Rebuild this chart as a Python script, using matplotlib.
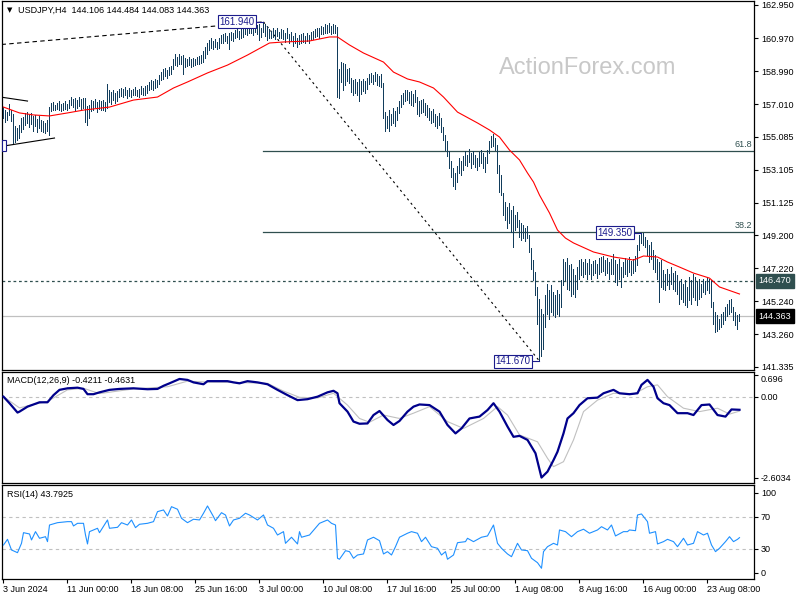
import numpy as np
import matplotlib
matplotlib.use("Agg")
import matplotlib.pyplot as plt
import matplotlib.transforms as mtransforms
from matplotlib.patches import Rectangle

plt.rcParams['font.family'] = ['Liberation Sans', 'DejaVu Sans']

# ---- data (bar index = 4h bar from 3 Jun 16:00) ----
symbol = "USDJPY,H4"
last_ohlc = [144.106, 144.484, 144.083, 144.363]

bar_hi = [
    156.85, 156.70, 156.55, 157.05, 156.70, 156.45, 155.70, 155.60, 155.75, 156.20,
    156.25, 156.50, 156.55, 156.35, 156.50, 156.30, 156.40, 156.15, 156.30, 156.05,
    156.00, 155.90, 156.10, 156.85, 157.10, 157.15, 157.00, 157.10, 157.20, 157.05,
    157.10, 157.20, 157.05, 157.30, 157.45, 157.35, 157.40, 157.25, 157.45, 157.35,
    157.40, 157.40, 156.90, 157.00, 157.25, 157.20, 157.35, 157.15, 157.25, 157.20,
    157.30, 157.15, 158.25, 157.85, 157.75, 157.90, 157.70, 157.80, 157.95, 158.00,
    157.95, 158.05, 157.90, 158.00, 157.85, 157.95, 158.05, 157.90, 157.95, 158.10,
    158.00, 158.10, 158.15, 158.35, 158.45, 158.40, 158.50, 158.45, 158.75, 158.95,
    159.10, 159.20, 159.05, 159.25, 159.30, 159.70, 160.00, 159.85, 160.05, 159.90,
    159.95, 159.80, 159.70, 159.85, 159.75, 159.80, 159.70, 159.85, 159.90, 159.95,
    160.20, 160.45, 160.70, 160.85, 160.95, 160.80, 160.90, 160.75, 160.95, 161.15,
    161.20, 161.30, 161.10, 161.25, 161.35, 161.30, 161.45, 161.55, 161.40, 161.50,
    161.60, 161.75, 161.70, 161.85, 161.80, 161.70, 161.85, 161.75, 161.80, 161.60,
    161.94, 161.80, 161.70, 161.50, 161.40, 161.55, 161.45, 161.60, 161.35, 161.50,
    161.45, 161.30, 161.55, 161.20, 161.35, 161.10, 161.25, 161.00, 161.15, 161.20,
    161.25, 161.10, 161.30, 161.15, 161.35, 161.40, 161.50, 161.60, 161.55, 161.70,
    161.65, 161.80, 161.75, 161.85, 161.70, 161.80, 161.75, 161.65, 159.10, 159.55,
    159.50, 159.40, 159.15, 159.20, 158.60, 158.45, 158.50, 158.35, 158.55, 158.40,
    158.50, 158.40, 158.60, 158.85, 158.90, 158.75, 158.95, 158.80, 158.70, 158.85,
    158.30, 156.55, 156.30, 156.70, 156.45, 156.80, 156.60, 156.85, 157.20, 157.60,
    157.70, 157.85, 157.90, 157.75, 157.80, 157.65, 157.85, 157.45, 157.20, 157.30,
    157.35, 157.10, 157.00, 156.80, 156.60, 156.75, 156.45, 156.30, 156.50, 156.20,
    155.65, 155.20, 154.80, 154.20, 153.60, 153.20, 152.90, 153.30, 153.80, 153.60,
    153.90, 154.20, 154.00, 154.35, 154.10, 154.25, 154.00, 153.80, 154.15, 154.30,
    154.10, 153.85, 154.30, 154.80, 155.10, 155.25, 155.00, 154.60, 153.40, 152.80,
    151.70, 151.20, 150.90, 151.10, 150.70, 150.95, 150.40, 150.60, 150.10, 149.95,
    149.80, 149.60, 149.75, 149.20, 148.40, 147.70, 147.00, 146.10, 145.40, 144.80,
    144.50, 145.60, 146.30, 145.90, 146.20, 145.80, 145.60, 145.90, 145.70, 146.50,
    147.80, 147.60, 147.85, 147.40, 147.50, 147.20, 146.80, 147.30, 147.70, 147.80,
    147.60, 147.75, 147.55, 147.80, 147.45, 147.65, 147.70, 147.50, 147.85, 147.90,
    147.95, 147.70, 147.85, 147.60, 147.80, 148.05, 147.70, 147.50, 147.75, 147.30,
    147.60, 147.85, 147.70, 147.90, 147.65, 147.80, 147.95, 148.60, 149.20, 149.35,
    149.30, 149.10, 148.90, 148.60, 148.80, 148.30, 148.00, 147.80, 147.60, 147.70,
    147.10, 146.90, 147.20, 146.85, 147.30, 146.95, 147.05, 146.80, 146.40, 146.60,
    146.30, 146.50, 146.10, 146.70, 146.50, 146.90, 146.70, 146.40, 146.60, 146.30,
    146.60, 146.45, 146.70, 146.55, 146.50, 145.20, 144.60, 144.40, 144.20, 144.50,
    144.60, 144.90, 145.10, 145.30, 145.40, 144.90, 144.60, 144.40, 144.484,
]
bar_lo = [
    156.20, 155.95, 156.05, 156.35, 156.00, 154.70, 154.75, 154.90, 155.00, 155.35,
    155.55, 155.80, 155.90, 155.65, 155.85, 155.45, 155.70, 155.35, 155.60, 155.40,
    155.35, 155.30, 155.45, 155.20, 156.60, 156.70, 156.65, 156.75, 156.70, 156.60,
    156.65, 156.75, 156.70, 156.80, 156.95, 156.85, 156.70, 156.80, 156.90, 156.75,
    156.80, 155.95, 155.75, 156.20, 156.60, 156.70, 156.85, 156.55, 156.75, 156.65,
    156.70, 156.60, 156.80, 157.15, 157.05, 157.25, 157.10, 157.20, 157.45, 157.50,
    157.45, 157.55, 157.40, 157.50, 157.45, 157.55, 157.60, 157.50, 157.45, 157.65,
    157.55, 157.60, 157.70, 157.85, 157.95, 157.90, 158.00, 158.05, 158.20, 158.45,
    158.55, 158.70, 158.60, 158.75, 158.85, 159.10, 159.35, 159.30, 159.45, 159.40,
    158.80, 159.25, 159.30, 159.35, 159.25, 159.30, 159.35, 159.40, 159.45, 159.50,
    159.55, 159.80, 160.05, 160.25, 160.40, 160.35, 160.45, 160.30, 160.40, 160.70,
    160.70, 160.80, 160.65, 160.30, 160.85, 160.80, 160.95, 161.05, 160.90, 161.00,
    161.05, 161.20, 161.15, 161.30, 161.25, 161.15, 161.35, 161.20, 160.85, 161.05,
    161.35, 161.10, 160.85, 160.95, 161.00, 161.05, 160.90, 161.10, 160.95, 161.00,
    160.90, 160.75, 160.95, 160.70, 160.80, 160.50, 160.65, 160.45, 160.60, 160.70,
    160.75, 160.65, 160.80, 160.70, 160.85, 160.90, 161.05, 161.10, 161.00, 161.20,
    161.20, 161.30, 161.25, 161.35, 161.20, 161.30, 161.25, 157.45, 157.40, 158.35,
    157.90, 158.15, 158.40, 158.30, 157.75, 157.60, 157.70, 157.55, 157.20, 157.65,
    157.80, 157.70, 157.95, 158.25, 158.35, 158.20, 158.40, 158.15, 158.10, 158.05,
    156.20, 155.45, 155.60, 155.40, 155.75, 155.90, 155.70, 156.10, 156.50, 156.85,
    157.05, 157.20, 157.25, 157.10, 157.00, 156.90, 157.15, 156.45, 156.30, 156.50,
    156.55, 156.35, 156.25, 156.10, 155.90, 155.95, 155.70, 155.60, 155.75, 155.35,
    154.90, 154.30, 153.90, 153.20, 152.70, 152.15, 151.95, 152.40, 152.90, 152.80,
    153.10, 153.40, 153.30, 153.55, 153.20, 153.45, 153.25, 153.10, 153.35, 153.50,
    153.20, 152.95, 153.50, 154.10, 154.45, 154.55, 154.30, 152.90, 151.80, 151.60,
    150.40, 150.10, 149.60, 149.90, 149.40, 148.50, 149.50, 149.70, 149.10, 148.90,
    149.00, 148.85, 149.00, 148.20, 147.20, 146.50, 145.60, 143.90, 141.67, 142.00,
    142.40, 143.70, 144.50, 144.20, 144.60, 144.40, 144.30, 144.50, 144.35, 144.90,
    146.20, 146.50, 146.00, 145.90, 145.55, 145.70, 145.50, 146.00, 146.60, 146.80,
    146.70, 146.90, 146.60, 146.85, 146.55, 146.80, 146.95, 146.65, 146.90, 147.00,
    147.05, 146.80, 146.95, 146.60, 146.85, 146.90, 146.40, 146.20, 146.60, 146.10,
    146.70, 146.90, 146.75, 147.00, 146.80, 146.95, 147.05, 147.40, 148.30, 148.70,
    148.60, 148.50, 148.00, 147.60, 147.80, 147.20, 147.00, 146.60, 145.20, 146.10,
    146.00, 145.90, 146.20, 145.95, 146.30, 146.00, 145.85, 145.70, 145.10, 145.40,
    145.20, 145.05, 144.90, 145.30, 145.10, 145.50, 145.30, 145.00, 145.40, 145.50,
    145.80, 145.65, 145.90, 145.75, 144.90, 143.90, 143.40, 143.45, 143.60, 143.70,
    143.90, 144.10, 144.35, 144.50, 144.60, 144.10, 143.80, 143.60, 144.083,
]

# red moving average
ma_bar = [0, 8, 15, 23, 32, 40, 53, 65, 77, 85, 92, 102, 112, 122, 133, 140, 153,
          163, 167, 173, 180, 190, 195, 202, 208, 215, 220, 227, 237, 243, 248, 253,
          258, 262, 265, 268, 273, 277, 281, 285, 295, 305, 315, 320, 327, 332, 338,
          345, 353, 358, 368]
ma_val = [156.85, 156.50, 156.38, 156.32, 156.50, 156.67, 156.85, 157.27, 157.45,
          157.99, 158.35, 158.89, 159.36, 159.96, 160.68, 160.74, 160.80, 161.04,
          161.04, 160.56, 160.08, 159.54, 158.94, 158.53, 158.35, 157.99, 157.45,
          156.55, 155.90, 155.48, 155.06, 154.28, 153.69, 152.91, 152.37, 151.59,
          150.52, 149.50, 149.02, 148.73, 148.19, 147.89, 147.71, 147.95, 147.89,
          147.59, 147.29, 146.93, 146.63, 146.10, 145.68]

# MACD(12,26,9)
macd_bar = [0, 3, 7, 8, 12, 15, 18, 22, 25, 28, 32, 37, 40, 42, 45, 48, 53, 58, 65,
            72, 77, 80, 83, 88, 92, 95, 100, 102, 107, 112, 115, 118, 122, 127, 132,
            137, 142, 147, 152, 157, 162, 165, 167, 168, 172, 175, 178, 182, 185, 188,
            192, 195, 198, 202, 205, 208, 213, 218, 222, 226, 229, 233, 238, 242, 245,
            248, 252, 255, 258, 262, 266, 269, 272, 275, 277, 280, 282, 285, 288, 292,
            297, 300, 305, 308, 313, 317, 319, 322, 325, 327, 330, 333, 337, 342, 345,
            349, 353, 357, 361, 364, 368]
macd_val = [0.0, -0.21, -0.51, -0.48, -0.32, -0.25, -0.18, -0.18, 0.05, 0.22, 0.27,
            0.29, 0.25, 0.08, 0.08, 0.14, 0.22, 0.25, 0.27, 0.24, 0.25, 0.35, 0.43,
            0.57, 0.54, 0.46, 0.40, 0.50, 0.50, 0.50, 0.46, 0.43, 0.50, 0.46, 0.40,
            0.22, 0.05, -0.11, -0.08, 0.0, 0.14, 0.19, 0.11, -0.21, -0.48, -0.80,
            -0.87, -0.86, -0.59, -0.46, -0.75, -0.91, -0.78, -0.48, -0.32, -0.25,
            -0.27, -0.48, -0.91, -1.18, -1.02, -0.70, -0.64, -0.43, -0.21, -0.48,
            -0.96, -1.29, -1.26, -1.39, -1.82, -2.60, -2.41, -2.04, -1.77, -1.18,
            -0.70, -0.53, -0.27, -0.05, -0.03, 0.11, 0.22, 0.11, 0.08, 0.11, 0.38,
            0.54, 0.32, -0.05, -0.21, -0.27, -0.53, -0.53, -0.59, -0.27, -0.25,
            -0.59, -0.64, -0.41, -0.4211]
sig_bar = [0, 8, 15, 22, 32, 40, 48, 65, 82, 92, 102, 115, 132, 140, 148, 157, 165,
           172, 178, 183, 190, 198, 205, 213, 222, 230, 240, 247, 252, 258, 267, 272,
           275, 280, 285, 290, 297, 305, 315, 322, 327, 332, 340, 348, 357, 363, 368]
sig_val = [0.0, -0.36, -0.25, -0.15, 0.22, 0.27, 0.10, 0.25, 0.32, 0.50, 0.47, 0.46,
           0.43, 0.18, -0.02, -0.04, 0.11, -0.27, -0.70, -0.82, -0.59, -0.70, -0.53,
           -0.32, -0.80, -1.02, -0.70, -0.32, -0.59, -1.23, -1.45, -1.98, -2.25,
           -2.09, -1.39, -0.48, -0.11, 0.11, 0.08, 0.32, 0.38, 0.0, -0.37, -0.48,
           -0.37, -0.56, -0.4631]
macd_ticks = [0.696, 0.0, -2.6034]
macd_tick_lab = ["0.696", "0.00", "-2.6034"]

# RSI(14)
rsi_bar = [0, 2, 4, 7, 9, 10, 13, 14, 16, 18, 21, 22, 23, 27, 32, 34, 35, 37, 40,
           41, 42, 43, 47, 48, 52, 53, 57, 59, 62, 64, 66, 68, 72, 75, 77, 80, 82,
           84, 87, 89, 92, 95, 98, 100, 102, 105, 106, 109, 111, 113, 115, 118, 121,
           123, 127, 130, 132, 135, 137, 140, 141, 144, 147, 148, 149, 153, 158, 162,
           164, 166, 167, 168, 171, 173, 175, 177, 180, 182, 185, 188, 190, 192, 194,
           196, 198, 202, 204, 207, 209, 211, 214, 217, 219, 221, 222, 225, 227, 231,
           232, 235, 239, 242, 245, 247, 249, 252, 254, 257, 259, 262, 264, 267, 269,
           270, 272, 275, 277, 278, 281, 284, 287, 290, 293, 297, 299, 302, 304, 306,
           310, 312, 313, 316, 317, 319, 322, 323, 326, 327, 330, 332, 335, 337, 340,
           342, 345, 347, 350, 352, 354, 356, 358, 361, 363, 365, 367, 368]
rsi_val = [34.6, 41.7, 28.4, 25.0, 36.7, 50.0, 48.4, 40.9, 51.3, 43.0, 45.0, 38.8,
           59.6, 62.5, 63.8, 63.8, 58.4, 61.7, 61.7, 47.1, 35.9, 51.3, 55.5, 50.0,
           65.9, 55.5, 56.7, 62.5, 59.6, 65.9, 56.3, 60.5, 61.7, 63.8, 76.3, 78.4,
           70.9, 82.5, 79.3, 68.0, 62.5, 66.8, 65.9, 74.3, 83.4, 70.0, 65.0, 75.0,
           72.1, 58.4, 65.9, 68.0, 74.3, 72.1, 65.9, 72.1, 59.6, 55.5, 47.1, 51.3,
           36.7, 44.3, 35.9, 51.3, 44.3, 47.1, 61.7, 65.9, 61.7, 59.6, 18.0, 16.8,
           27.5, 26.3, 18.0, 22.1, 23.4, 40.9, 44.3, 40.0, 23.4, 26.3, 22.1, 32.5,
           44.3, 49.3, 51.3, 49.3, 38.8, 44.3, 32.5, 30.5, 22.1, 26.3, 16.8, 22.1,
           37.5, 38.8, 43.0, 38.8, 44.3, 45.9, 59.6, 36.7, 30.5, 23.4, 20.0, 36.7,
           28.4, 27.5, 18.0, 12.5, 5.5, 26.3, 32.5, 36.7, 34.6, 53.4, 51.3, 45.0,
           51.3, 54.3, 49.3, 53.4, 57.5, 53.4, 59.6, 45.9, 51.3, 51.3, 53.4, 52.5,
           72.1, 73.4, 63.8, 49.3, 51.3, 35.9, 38.8, 41.7, 38.8, 32.5, 43.0, 34.6,
           36.7, 51.3, 47.1, 49.3, 34.6, 26.3, 30.5, 38.8, 45.0, 38.8, 41.7, 43.7925]
rsi_ticks = [100, 70, 30, 0]
rsi_levels = [70, 30]

price_ticks = [162.950, 160.970, 158.990, 157.010, 155.085, 153.105, 151.125,
               149.200, 147.220, 145.240, 143.260, 141.335]

date_bar = [0, 32, 64, 96, 128, 160, 192, 224, 256, 288, 320, 352]
date_lab = ["3 Jun 2024", "11 Jun 00:00", "18 Jun 08:00", "25 Jun 16:00",
            "3 Jul 00:00", "10 Jul 08:00", "17 Jul 16:00", "25 Jul 00:00",
            "1 Aug 08:00", "8 Aug 16:00", "16 Aug 00:00", "23 Aug 08:00"]

level_dash = 146.470
fib_levels = [61.8, 38.2]

# hand drawn lines (bar index, price)
trend_top_bar = [-1, 130]
trend_top_px = [160.59, 161.94]
tri_top_bar = [-1.5, 12]
tri_top_px = [157.45, 157.21]
tri_bot_bar = [0, 25.5]
tri_bot_px = [154.52, 155.00]
left_tag = 154.550

# ---- styles ----
bar_col = '#123D5C'
slate = '#2F4F4F'
navy = '#1C1C8C'
fs = 6.5
W, H = 800, 600
X0, X1 = -0.75, 375.25

fig = plt.figure(figsize=(8, 6), dpi=100)
fig.patch.set_facecolor('white')


def panel(top, bot):
    a = fig.add_axes([2 / W, 1 - bot / H, 752 / W, (bot - top) / H])
    a.set_xlim(X0, X1)
    for s in a.spines.values():
        s.set_color('black')
        s.set_linewidth(0.9)
    a.yaxis.tick_right()
    a.tick_params(axis='y', length=3, width=0.8, pad=2, labelsize=fs, colors='black')
    a.tick_params(axis='x', bottom=False, labelbottom=False)
    return a


ax = panel(1, 370)
ax2 = panel(372, 483)
ax3 = panel(485, 579)

# ---- price panel ----
ax.set_ylim(141.138, 163.189)
ax.set_yticks(price_ticks)
ax.set_yticklabels([f"{t:.3f}" for t in price_ticks])

idx = np.arange(len(bar_hi))
ax.vlines(idx, bar_lo, bar_hi, color=bar_col, lw=0.5, antialiased=False, zorder=3)
ax.plot(ma_bar, ma_val, color='red', lw=0.8, zorder=4)

hi_i = int(np.argmax(bar_hi))
lo_i = int(np.argmin(bar_lo))
fhi, flo = bar_hi[hi_i], bar_lo[lo_i]
rb_i = lo_i + int(np.argmax(bar_hi[lo_i:]))

for lv in fib_levels:
    p = flo + lv / 100 * (fhi - flo)
    ax.plot([hi_i, X1], [p, p], color=slate, lw=0.9, zorder=2)
    ax.text(374.3, p + 0.12, f"{lv:.1f}", ha='right', va='bottom', fontsize=fs,
            color=slate)
ax.plot([hi_i, lo_i], [fhi, flo], color='black', lw=0.8, ls=(0, (2, 3)), zorder=2)
ax.plot(trend_top_bar, trend_top_px, color='black', lw=0.8, ls=(0, (4, 3)), zorder=2)
ax.plot(tri_top_bar, tri_top_px, color='black', lw=0.8, zorder=2)
ax.plot(tri_bot_bar, tri_bot_px, color='black', lw=0.8, zorder=2)

ax.axhline(level_dash, color=slate, lw=0.9, ls=(0, (2.2, 2.2)), zorder=2)
ax.axhline(last_ohlc[3], color='#C0C0C0', lw=0.9, zorder=1)


def price_tag(i, p):
    ax.plot([i - 4.5, i], [p, p], color=navy, lw=0.8, zorder=5)
    ax.text(i - 4.5, p, f"{p:.3f}", ha='right', va='center', fontsize=7, color=navy,
            zorder=6, bbox=dict(boxstyle='square,pad=0.15', fc='white', ec=navy, lw=0.8))


price_tag(hi_i, fhi)
price_tag(lo_i, flo)
price_tag(rb_i, bar_hi[rb_i])
# edge of an older price tag, mostly off the left side
ax.add_patch(Rectangle((-0.6, left_tag - 0.33), 1.8, 0.66, fc='white', ec=navy,
                       lw=0.8, zorder=6))

# right axis highlighted values
tr = mtransforms.blended_transform_factory(ax.transAxes, ax.transData)
ax.text(1.0057, level_dash, f"{level_dash:.3f}", transform=tr, ha='left', va='center',
        fontsize=fs, color='white', clip_on=False,
        bbox=dict(boxstyle='square,pad=0.3', fc=slate, ec=slate))
ax.text(1.0057, last_ohlc[3], f"{last_ohlc[3]:.3f}", transform=tr, ha='left',
        va='center', fontsize=fs, color='white', clip_on=False,
        bbox=dict(boxstyle='square,pad=0.3', fc='black', ec='black'))

ax.text(0.0106, 0.9756, "\u25bc", transform=ax.transAxes, ha='center', va='center',
        fontsize=5, family='DejaVu Sans')
ax.text(0.0213, 0.9756, symbol + "  " + " ".join(f"{v:.3f}" for v in last_ohlc),
        transform=ax.transAxes, ha='left', va='center', fontsize=fs)
ax.text(0.779, 0.818, "ActionForex.com", transform=ax.transAxes, ha='center',
        va='center', fontsize=17, color='#C8C8C8', zorder=0)

# ---- MACD panel ----
ax2.set_ylim(-2.775, 0.794)
ax2.axhline(0, color='#C0C0C0', lw=0.8, ls=(0, (3, 3)), zorder=1)
ax2.plot(sig_bar, sig_val, color='#C0C0C0', lw=0.8, zorder=2)
ax2.plot(macd_bar, macd_val, color='#00008B', lw=1.6, zorder=3)
ax2.set_yticks(macd_ticks)
ax2.set_yticklabels(macd_tick_lab)
ax2.get_yticklabels()[0].set_va('top')
ax2.text(0.0066, 0.919, "MACD(12,26,9) %.4f %.4f" % (macd_val[-1], sig_val[-1]),
         transform=ax2.transAxes, ha='left', va='center', fontsize=fs)

# ---- RSI panel ----
ax3.set_ylim(-7.9, 109.6)
for lv in rsi_levels:
    ax3.axhline(lv, color='#C0C0C0', lw=0.8, ls=(0, (3, 3)), zorder=1)
ax3.plot(rsi_bar, rsi_val, color='#1E90FF', lw=0.8, zorder=3)
ax3.set_yticks(rsi_ticks)
ax3.set_yticklabels([str(t) for t in rsi_ticks])
ax3.text(0.0066, 0.894, "RSI(14) %.4f" % rsi_val[-1], transform=ax3.transAxes,
         ha='left', va='center', fontsize=fs)
ax3.set_xticks(date_bar)
ax3.set_xticklabels(date_lab, ha='left')
ax3.tick_params(axis='x', bottom=True, labelbottom=True, length=3, width=0.8, pad=1.5,
                labelsize=fs)

fig.savefig("out.png", dpi=100, facecolor='white')
